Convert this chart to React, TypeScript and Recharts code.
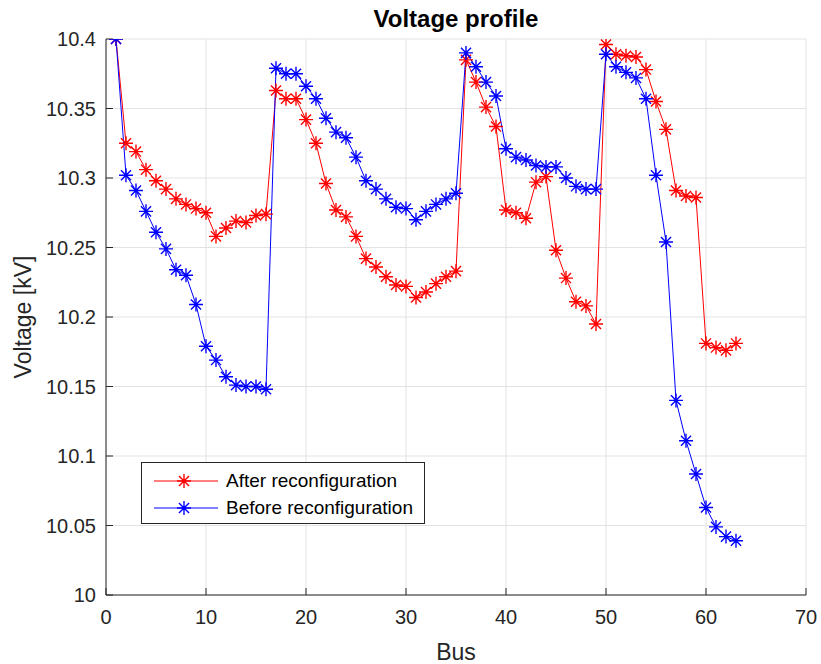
import React from 'react'
import { LineChart, Line, XAxis, YAxis, CartesianGrid, Legend } from 'recharts'

const buses = [
  1, 2, 3, 4, 5, 6, 7, 8, 9, 10, 11, 12, 13, 14, 15, 16, 17, 18, 19, 20, 21, 22, 23, 24, 25, 26, 27, 28, 29, 30, 31,
  32, 33, 34, 35, 36, 37, 38, 39, 40, 41, 42, 43, 44, 45, 46, 47, 48, 49, 50, 51, 52, 53, 54, 55, 56, 57, 58, 59, 60,
  61, 62, 63,
]

const afterReconfig = [
  10.4, 10.325, 10.319, 10.306, 10.298, 10.292, 10.285, 10.281, 10.278, 10.275, 10.258, 10.264, 10.269, 10.268, 10.273,
  10.274, 10.363, 10.357, 10.357, 10.342, 10.325, 10.296, 10.277, 10.272, 10.258, 10.242, 10.236, 10.229, 10.223,
  10.222, 10.214, 10.218, 10.224, 10.229, 10.233, 10.385, 10.369, 10.351, 10.337, 10.277, 10.275, 10.271, 10.297,
  10.301, 10.248, 10.228, 10.211, 10.208, 10.195, 10.396, 10.389, 10.388, 10.387, 10.378, 10.355, 10.335, 10.291,
  10.287, 10.286, 10.181, 10.178, 10.176, 10.181,
]

const beforeReconfig = [
  10.4, 10.302, 10.291, 10.276, 10.261, 10.249, 10.234, 10.23, 10.209, 10.179, 10.169, 10.157, 10.151, 10.15, 10.15,
  10.148, 10.379, 10.375, 10.375, 10.366, 10.357, 10.343, 10.333, 10.329, 10.315, 10.298, 10.292, 10.285, 10.279,
  10.278, 10.27, 10.276, 10.281, 10.285, 10.289, 10.39, 10.38, 10.369, 10.359, 10.321, 10.315, 10.313, 10.309, 10.308,
  10.308, 10.3, 10.294, 10.292, 10.292, 10.389, 10.38, 10.376, 10.372, 10.357, 10.302, 10.254, 10.14, 10.111, 10.087,
  10.063, 10.049, 10.042, 10.039,
]

const xTicks = [0, 10, 20, 30, 40, 50, 60, 70]
const yTicks = [10, 10.05, 10.1, 10.15, 10.2, 10.25, 10.3, 10.35, 10.4]

const chartData = buses.map((bus, i) => ({
  bus,
  after: afterReconfig[i],
  before: beforeReconfig[i],
}))

const FONT = '"Liberation Sans", Arial, Helvetica, sans-serif'
const AXIS_COLOR = '#262626'
const RED = '#ff0000'
const BLUE = '#0000ff'

const starPath = (cx: number, cy: number, r: number) => {
  const d = r * 0.72
  return `M${cx - r},${cy}H${cx + r}M${cx},${cy - r}V${cy + r}M${cx - d},${cy - d}L${cx + d},${cy + d}M${cx - d},${cy + d}L${cx + d},${cy - d}`
}

const asterisk = (color: string) => (props: any) => {
  const { cx, cy, index } = props
  if (cx == null || cy == null) return <g key={index} />
  return <path key={index} d={starPath(cx, cy, 7)} stroke={color} strokeWidth={1.4} fill="none" />
}

const fmtY = (v: number) => String(+v.toFixed(2))

const LegendBox = () => {
  const rows = [
    { label: 'After reconfiguration', color: RED, y: 18 },
    { label: 'Before reconfiguration', color: BLUE, y: 45 },
  ]
  return (
    <div
      style={{
        position: 'relative',
        width: 284,
        height: 62,
        boxSizing: 'border-box',
        border: `1px solid ${AXIS_COLOR}`,
        background: '#fff',
        fontFamily: FONT,
      }}
    >
      <svg width={84} height={62} style={{ position: 'absolute', left: 0, top: 0 }}>
        {rows.map((r) => (
          <g key={r.label}>
            <line x1={12} x2={76} y1={r.y} y2={r.y} stroke={r.color} strokeWidth={1} />
            <path d={starPath(42, r.y, 7)} stroke={r.color} strokeWidth={1.4} fill="none" />
          </g>
        ))}
      </svg>
      {rows.map((r) => (
        <div
          key={r.label}
          style={{
            position: 'absolute',
            left: 84,
            top: r.y - 12,
            fontSize: 19,
            lineHeight: '24px',
            color: '#000',
            whiteSpace: 'nowrap',
          }}
        >
          {r.label}
        </div>
      ))}
    </div>
  )
}

const App: React.FC = () => {
  return (
    <div style={{ position: 'absolute', left: 0, top: 0, width: 821, height: 664, background: '#fff' }}>
      <LineChart
        width={821}
        height={664}
        data={chartData}
        margin={{ top: 39, right: 15, bottom: 9, left: 46 }}
        style={{ fontFamily: FONT }}
      >
        <CartesianGrid stroke="#e3e3e3" strokeWidth={1} />
        <XAxis
          dataKey="bus"
          type="number"
          domain={[0, 70]}
          ticks={xTicks}
          height={60}
          stroke={AXIS_COLOR}
          tickSize={-7}
          tickMargin={22}
          tick={{ fill: AXIS_COLOR, fontSize: 20, fontFamily: FONT }}
        />
        <XAxis
          xAxisId="top"
          orientation="top"
          type="number"
          domain={[0, 70]}
          ticks={xTicks}
          height={0}
          stroke={AXIS_COLOR}
          tickSize={-7}
          tickFormatter={() => ''}
        />
        <YAxis
          type="number"
          domain={[10, 10.4]}
          ticks={yTicks}
          allowDataOverflow
          width={60}
          stroke={AXIS_COLOR}
          tickSize={-7}
          tickMargin={17}
          tickFormatter={fmtY}
          tick={{ fill: AXIS_COLOR, fontSize: 20, fontFamily: FONT }}
        />
        <YAxis
          yAxisId="right"
          orientation="right"
          type="number"
          domain={[10, 10.4]}
          ticks={yTicks}
          width={0}
          stroke={AXIS_COLOR}
          tickSize={-7}
          tickFormatter={() => ''}
        />
        <Legend
          verticalAlign="middle"
          align="center"
          layout="horizontal"
          wrapperStyle={{ left: 141, top: 462, width: 284, height: 62 }}
          content={() => <LegendBox />}
        />
        <Line
          dataKey="after"
          name="After reconfiguration"
          stroke={RED}
          strokeWidth={1}
          dot={asterisk(RED)}
          activeDot={false}
          isAnimationActive={false}
        />
        <Line
          dataKey="before"
          name="Before reconfiguration"
          stroke={BLUE}
          strokeWidth={1}
          dot={asterisk(BLUE)}
          activeDot={false}
          isAnimationActive={false}
        />
      </LineChart>
      <svg
        width={821}
        height={664}
        style={{ position: 'absolute', left: 0, top: 0, pointerEvents: 'none', fontFamily: FONT }}
      >
        <text x={456} y={27} textAnchor="middle" fontSize={24} fontWeight="bold" fill="#000">
          Voltage profile
        </text>
        <text x={456} y={660} textAnchor="middle" fontSize={23} fill={AXIS_COLOR}>
          Bus
        </text>
        <text
          x={0}
          y={0}
          transform="translate(31 317) rotate(-90)"
          textAnchor="middle"
          fontSize={23}
          fill={AXIS_COLOR}
        >
          Voltage [kV]
        </text>
      </svg>
    </div>
  )
}

export default App
